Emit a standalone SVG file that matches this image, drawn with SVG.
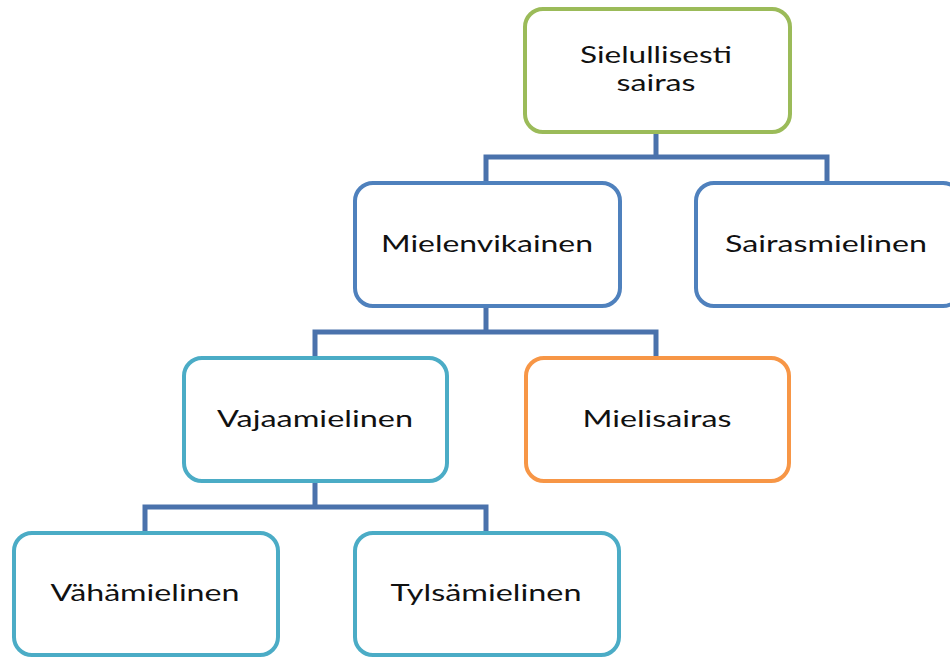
<svg xmlns="http://www.w3.org/2000/svg" width="950" height="657" viewBox="0 0 950 657">
<style>
.box{fill:#fff;stroke-width:4}
.t{font-family:Lato,"Open Sans","Liberation Sans",sans-serif;font-weight:400;font-size:23.5px;fill:#111;text-anchor:middle}
.c{fill:none;stroke:#4A72AC;stroke-width:5}
</style>
<rect width="950" height="657" fill="#fff"/>
<g id="connectors">
<path class="c" d="M656 133V157M486 182V157H827V182"/>
<path class="c" d="M486 307V332M315 357V332H656V357"/>
<path class="c" d="M315 482V507M145 532V507H486V532"/>
</g>
<g id="n1"><rect class="box" x="525" y="9" width="265" height="123" rx="18" stroke="#9BBB59"/><text class="t" x="656" y="63" textLength="152" lengthAdjust="spacingAndGlyphs">Sielullisesti</text><text class="t" x="656" y="91" textLength="79" lengthAdjust="spacingAndGlyphs">sairas</text></g>
<g id="n2"><rect class="box" x="355" y="183" width="265" height="123" rx="18" stroke="#4F81BD"/><text class="t" x="487" y="252" textLength="212" lengthAdjust="spacingAndGlyphs">Mielenvikainen</text></g>
<g id="n3"><rect class="box" x="696" y="183" width="265" height="123" rx="18" stroke="#4F81BD"/><text class="t" x="826" y="252" textLength="202" lengthAdjust="spacingAndGlyphs">Sairasmielinen</text></g>
<g id="n4"><rect class="box" x="184" y="358" width="263" height="123" rx="18" stroke="#4BACC6"/><text class="t" x="315" y="427" textLength="196" lengthAdjust="spacingAndGlyphs">Vajaamielinen</text></g>
<g id="n5"><rect class="box" x="526" y="358" width="263" height="123" rx="18" stroke="#F79646"/><text class="t" x="657" y="427" textLength="149" lengthAdjust="spacingAndGlyphs">Mielisairas</text></g>
<g id="n6"><rect class="box" x="14" y="533" width="264" height="122" rx="18" stroke="#4BACC6"/><text class="t" x="145" y="601" textLength="189" lengthAdjust="spacingAndGlyphs">Vähämielinen</text></g>
<g id="n7"><rect class="box" x="355" y="533" width="264" height="122" rx="18" stroke="#4BACC6"/><text class="t" x="486" y="601" textLength="191" lengthAdjust="spacingAndGlyphs">Tylsämielinen</text></g>
</svg>
